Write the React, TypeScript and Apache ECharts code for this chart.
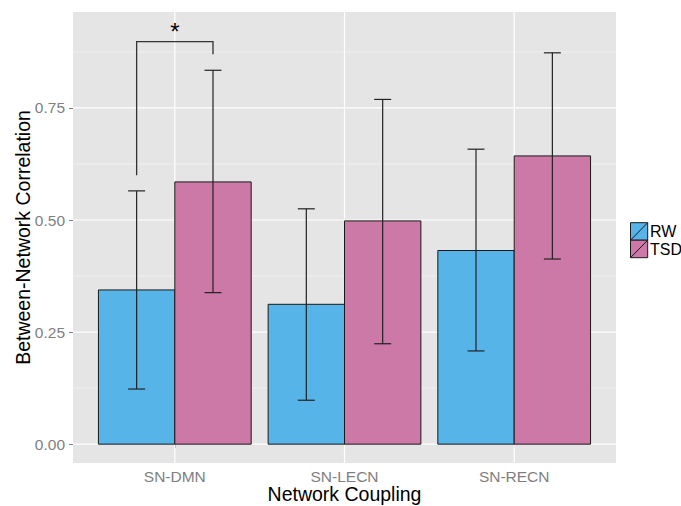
import React, { useEffect, useRef } from "react";
import * as echarts from "echarts";

const categories = ["SN-DMN", "SN-LECN", "SN-RECN"];
const groups = ["RW", "TSD"];
const rwMeans = [0.344, 0.312, 0.432];
const rwLower = [0.123, 0.098, 0.208];
const rwUpper = [0.565, 0.525, 0.658];
const tsdMeans = [0.585, 0.498, 0.643];
const tsdLower = [0.338, 0.224, 0.413];
const tsdUpper = [0.834, 0.769, 0.873];
const majorTicks = [0, 0.25, 0.5, 0.75];
const minorTicks = [0.125, 0.375, 0.625, 0.875];
// significance bracket: left foot, top, right foot
const bracketLevels = [0.6, 0.898, 0.87];
const bracketLabel = "*";

const X_MIN = 0.4;
const X_MAX = 3.6;
const Y_MIN = -0.042;
const Y_MAX = 0.964;
const DODGE = 0.45;
const CAP = 0.05;
const COLORS = ["#56b4e9", "#cc79a7"];
const FONT = "Liberation Sans, Arial, Helvetica, sans-serif";

export default function App() {
  const ref = useRef<HTMLDivElement>(null);
  useEffect(() => {
    if (!ref.current) return;
    const chart = echarts.init(ref.current, null, { renderer: "svg" });

    const gridData: any[] = [];
    majorTicks.forEach((v) => gridData.push([0, v, 1]));
    minorTicks.forEach((v) => gridData.push([0, v, 0]));
    categories.forEach((_, i) => gridData.push([i + 1, 0, 2]));

    const barSeries = (means: number[], s: number) => ({
      type: "custom",
      z: 3,
      clip: false,
      data: means.map((m, i) => [i + 1, m]),
      renderItem: (params: any, api: any) => {
        const x = api.value(0);
        const y = api.value(1);
        const x0 = s === 0 ? x - DODGE : x;
        const x1 = s === 0 ? x : x + DODGE;
        const p0 = api.coord([x0, y]);
        const p1 = api.coord([x1, 0]);
        return {
          type: "rect",
          shape: { x: p0[0], y: p0[1], width: p1[0] - p0[0], height: p1[1] - p0[1] },
          style: { fill: COLORS[s], stroke: "#1a1a1a", lineWidth: 1 },
        };
      },
    });

    const errData: any[] = [];
    rwMeans.forEach((_, i) => errData.push([i + 1 - DODGE / 2, rwLower[i], rwUpper[i]]));
    tsdMeans.forEach((_, i) => errData.push([i + 1 + DODGE / 2, tsdLower[i], tsdUpper[i]]));

    const option: any = {
      animation: false,
      grid: {
        left: 73,
        top: 12,
        right: 65,
        bottom: 43,
        show: true,
        backgroundColor: "#e5e5e5",
        borderWidth: 0,
        containLabel: false,
        outerBoundsMode: "none",
      },
      xAxis: {
        type: "value",
        min: X_MIN,
        max: X_MAX,
        name: "Network Coupling",
        nameLocation: "middle",
        nameGap: 23,
        nameMoveOverlap: false,
        nameTextStyle: { fontFamily: FONT, fontSize: 19.5, lineHeight: 16, color: "#000" },
        axisLine: { show: false },
        splitLine: { show: false },
        axisTick: { show: true, customValues: [1, 2, 3], length: 4, lineStyle: { color: "#999", width: 1 } },
        axisLabel: {
          customValues: [1, 2, 3],
          formatter: (v: number) => categories[Math.round(v) - 1] ?? "",
          fontFamily: FONT,
          fontSize: 15.5,
          lineHeight: 12,
          color: "#7f7f7f",
          margin: 7,
        },
      },
      yAxis: {
        type: "value",
        min: Y_MIN,
        max: Y_MAX,
        name: "Between-Network Correlation",
        nameLocation: "middle",
        nameGap: 40,
        nameMoveOverlap: false,
        nameTextStyle: { fontFamily: FONT, fontSize: 19.5, color: "#000" },
        axisLine: { show: false },
        splitLine: { show: false },
        axisTick: { show: true, customValues: majorTicks, length: 4, lineStyle: { color: "#7f7f7f", width: 1 } },
        axisLabel: {
          customValues: majorTicks,
          formatter: (v: number) => v.toFixed(2),
          fontFamily: FONT,
          fontSize: 15.5,
          color: "#7f7f7f",
          margin: 8,
        },
      },
      series: [
        {
          type: "custom",
          z: 1,
          silent: true,
          data: gridData,
          renderItem: (params: any, api: any) => {
            const kind = api.value(2);
            if (kind === 2) {
              const x = api.value(0);
              const a = api.coord([x, Y_MIN]);
              const b = api.coord([x, Y_MAX]);
              return {
                type: "line",
                shape: { x1: a[0], y1: a[1], x2: b[0], y2: b[1] },
                style: { stroke: "#ffffff", lineWidth: 1.2 },
              };
            }
            const v = api.value(1);
            const a = api.coord([X_MIN, v]);
            const b = api.coord([X_MAX, v]);
            return {
              type: "line",
              shape: { x1: a[0], y1: a[1], x2: b[0], y2: b[1] },
              style: { stroke: kind === 1 ? "#ffffff" : "#f2f2f2", lineWidth: kind === 1 ? 1.2 : 0.8 },
            };
          },
        },
        barSeries(rwMeans, 0),
        barSeries(tsdMeans, 1),
        {
          type: "custom",
          z: 4,
          clip: false,
          data: errData,
          renderItem: (params: any, api: any) => {
            const x = api.value(0);
            const lo = api.value(1);
            const hi = api.value(2);
            const a = api.coord([x, lo]);
            const b = api.coord([x, hi]);
            const l1 = api.coord([x - CAP, lo]);
            const r1 = api.coord([x + CAP, lo]);
            const l2 = api.coord([x - CAP, hi]);
            const r2 = api.coord([x + CAP, hi]);
            const st = { stroke: "#222", lineWidth: 1.2 };
            return {
              type: "group",
              children: [
                { type: "line", shape: { x1: a[0], y1: a[1], x2: b[0], y2: b[1] }, style: st },
                { type: "line", shape: { x1: l1[0], y1: l1[1], x2: r1[0], y2: r1[1] }, style: st },
                { type: "line", shape: { x1: l2[0], y1: l2[1], x2: r2[0], y2: r2[1] }, style: st },
              ],
            };
          },
        },
        {
          type: "custom",
          z: 5,
          clip: false,
          data: [[1, bracketLevels[0], bracketLevels[1], bracketLevels[2]]],
          renderItem: (params: any, api: any) => {
            const x = api.value(0);
            const xl = x - DODGE / 2;
            const xr = x + DODGE / 2;
            const p1 = api.coord([xl, api.value(1)]);
            const p2 = api.coord([xl, api.value(2)]);
            const p3 = api.coord([xr, api.value(2)]);
            const p4 = api.coord([xr, api.value(3)]);
            const t = api.coord([x, api.value(2)]);
            return {
              type: "group",
              children: [
                {
                  type: "polyline",
                  shape: { points: [p1, p2, p3, p4] },
                  style: { stroke: "#333", lineWidth: 1.3, fill: null },
                },
                {
                  type: "text",
                  x: t[0],
                  y: t[1] - 22,
                  style: {
                    text: bracketLabel,
                    fontFamily: FONT,
                    fontSize: 24,
                    fill: "#000",
                    align: "center",
                    verticalAlign: "top",
                  },
                },
              ],
            };
          },
        },
      ],
      graphic: [
        ...groups.map((g, i) => ({
          type: "group",
          x: 630.5,
          y: 222.7 + i * 17.5,
          children: [
            { type: "rect", shape: { x: 0, y: 0, width: 17.2, height: 17.5 }, style: { fill: COLORS[i], stroke: "#1a1a1a", lineWidth: 1 } },
            { type: "line", shape: { x1: 0, y1: 17.5, x2: 17.2, y2: 0 }, style: { stroke: "#1a1a1a", lineWidth: 1 } },
            {
              type: "text",
              x: 19.5,
              y: 9,
              style: { text: g, fontFamily: FONT, fontSize: 16, fill: "#000", verticalAlign: "middle", align: "left" },
            },
          ],
        })),
      ],
    };
    chart.setOption(option);
    return () => chart.dispose();
  }, []);
  return <div ref={ref} style={{ width: 681, height: 506, position: "absolute", left: 0, top: 0 }} />;
}
